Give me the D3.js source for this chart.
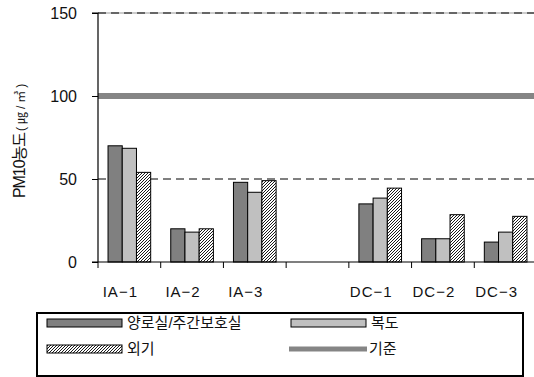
<!DOCTYPE html>
<html>
<head>
<meta charset="utf-8">
<script src="https://cdn.jsdelivr.net/npm/d3@7"></script>
<style>
  body { margin: 0; background: #fff; }
  text { font-family: "Liberation Sans", "Noto Sans CJK KR", sans-serif; fill: #111; }
</style>
</head>
<body>
<svg id="chart" width="534" height="377"></svg>
<script>
// data
const categories = ["IA-1", "IA-2", "IA-3", "", "DC-1", "DC-2", "DC-3"];
const seriesNames = ["양로실/주간보호실", "복도", "외기"];
const roomValues = [70, 20, 48, null, 35, 14, 12];
const hallValues = [68.5, 18, 42, null, 38.5, 14, 18];
const outdoorValues = [54, 20, 49, null, 44.5, 28.5, 27.5];
const standardValue = 100;
const standardName = "기준";
const yTicks = [0, 50, 100, 150];
const gridValues = [50, 150];
const yLabel = "PM10농도";
const yUnit = "(㎍/㎥)";

const seriesValues = [roomValues, hallValues, outdoorValues];
const fills = ["#808080", "#c0c0c0", "url(#hatch)"];

const svg = d3.select("#chart");
const plotL = 98, plotR = 537, plotT = 13, plotB = 262;

// fine diagonal hatch, one pixel per row
const defs = svg.append("defs");
const pat = defs.append("pattern")
    .attr("id", "hatch")
    .attr("patternUnits", "userSpaceOnUse")
    .attr("width", 3).attr("height", 3);
pat.append("rect").attr("width", 3).attr("height", 3).attr("fill", "#fff");
[[2, 0], [1, 1], [0, 2]].forEach(([px, py]) => {
    pat.append("rect").attr("x", px).attr("y", py)
        .attr("width", 1).attr("height", 1)
        .attr("fill", "#1a1a1a").attr("shape-rendering", "crispEdges");
});

const x = d3.scaleBand().domain(categories).range([plotL, plotR]);
const x1 = d3.scaleBand().domain(seriesNames)
    .range([x.bandwidth() * 0.16, x.bandwidth() * 0.84]);
const y = d3.scaleLinear().domain([0, 150]).range([plotB, plotT]);

// dashed gridlines
gridValues.forEach(v => {
    if (v === 150) {
        svg.append("line")
            .attr("x1", plotL).attr("x2", plotR)
            .attr("y1", y(v)).attr("y2", y(v))
            .attr("stroke", "#999").attr("stroke-width", 1);
    }
    svg.append("line")
        .attr("x1", plotL).attr("x2", plotR)
        .attr("y1", y(v)).attr("y2", y(v))
        .attr("stroke", "#000").attr("stroke-width", 1)
        .attr("stroke-dasharray", "8,5");
});

// standard line
svg.append("line")
    .attr("x1", plotL).attr("x2", plotR)
    .attr("y1", y(standardValue)).attr("y2", y(standardValue))
    .attr("stroke", "#858585").attr("stroke-width", 6);

// bars
const barData = [];
categories.forEach((c, i) => {
    seriesNames.forEach((s, j) => {
        const v = seriesValues[j][i];
        if (v != null) barData.push({ cat: c, series: s, value: v, idx: j });
    });
});

svg.append("g")
    .selectAll("rect")
    .data(barData)
    .join("rect")
    .attr("x", d => x(d.cat) + x1(d.series))
    .attr("y", d => y(d.value))
    .attr("width", x1.bandwidth())
    .attr("height", d => y(0) - y(d.value))
    .attr("fill", d => fills[d.idx])
    .attr("stroke", "#000")
    .attr("stroke-width", 1);

// y axis
const yAxis = svg.append("g")
    .attr("transform", `translate(${plotL},0)`)
    .call(d3.axisLeft(y).tickValues(yTicks).tickSize(6).tickPadding(15));
yAxis.select(".domain").attr("d", `M-6,${plotT}H0V${plotB}`).attr("stroke-width", 1.2);
yAxis.selectAll("text").attr("font-size", 16).attr("fill", "#111")
    .style("font-family", "'Liberation Sans', sans-serif");

// x axis line and ticks at band edges
svg.append("line")
    .attr("x1", plotL - 6).attr("x2", plotR)
    .attr("y1", plotB).attr("y2", plotB)
    .attr("stroke", "#000").attr("stroke-width", 1.2);
const edges = categories.map(c => x(c));
svg.append("g")
    .selectAll("line")
    .data(edges)
    .join("line")
    .attr("x1", d => d).attr("x2", d => d)
    .attr("y1", plotB).attr("y2", plotB + 6)
    .attr("stroke", "#000").attr("stroke-width", 1);

svg.append("g")
    .selectAll("text")
    .data(categories)
    .join("text")
    .attr("x", d => x(d) + x.bandwidth() / 2 - 9)
    .attr("y", 297)
    .attr("text-anchor", "middle")
    .attr("font-size", 15)
    .attr("letter-spacing", 1)
    .text(d => d.replace("-", "−"));

// y label
const yl = svg.append("text")
    .attr("transform", "translate(25,198) rotate(-90)")
    .attr("text-anchor", "start")
    .attr("font-size", 16);
yl.append("tspan").attr("textLength", 66).text(yLabel);
yl.append("tspan").attr("dx", 2).attr("font-size", 12)
    .attr("letter-spacing", 3).text(yUnit);

// legend
const lg = svg.append("g");
lg.append("rect")
    .attr("x", 37).attr("y", 313)
    .attr("width", 486).attr("height", 63)
    .attr("fill", "#fff").attr("stroke", "#000").attr("stroke-width", 2);

const legendItems = [
    { name: seriesNames[0], kind: "bar", fill: fills[0], lx: 47, ly: 323 },
    { name: seriesNames[1], kind: "bar", fill: fills[1], lx: 291, ly: 323 },
    { name: seriesNames[2], kind: "bar", fill: fills[2], lx: 47, ly: 349 },
    { name: standardName, kind: "line", lx: 289, ly: 349 }
];
legendItems.forEach(it => {
    if (it.kind === "bar") {
        lg.append("rect")
            .attr("x", it.lx).attr("y", it.ly - 4)
            .attr("width", 75).attr("height", 8)
            .attr("fill", it.fill).attr("stroke", "#000").attr("stroke-width", 1);
    } else {
        lg.append("line")
            .attr("x1", it.lx).attr("x2", it.lx + 78)
            .attr("y1", it.ly).attr("y2", it.ly)
            .attr("stroke", "#858585").attr("stroke-width", 5);
    }
    lg.append("text")
        .attr("x", it.lx + 80)
        .attr("y", it.ly + 5)
        .attr("font-size", 15)
        .text(it.name);
});
</script>
</body>
</html>
